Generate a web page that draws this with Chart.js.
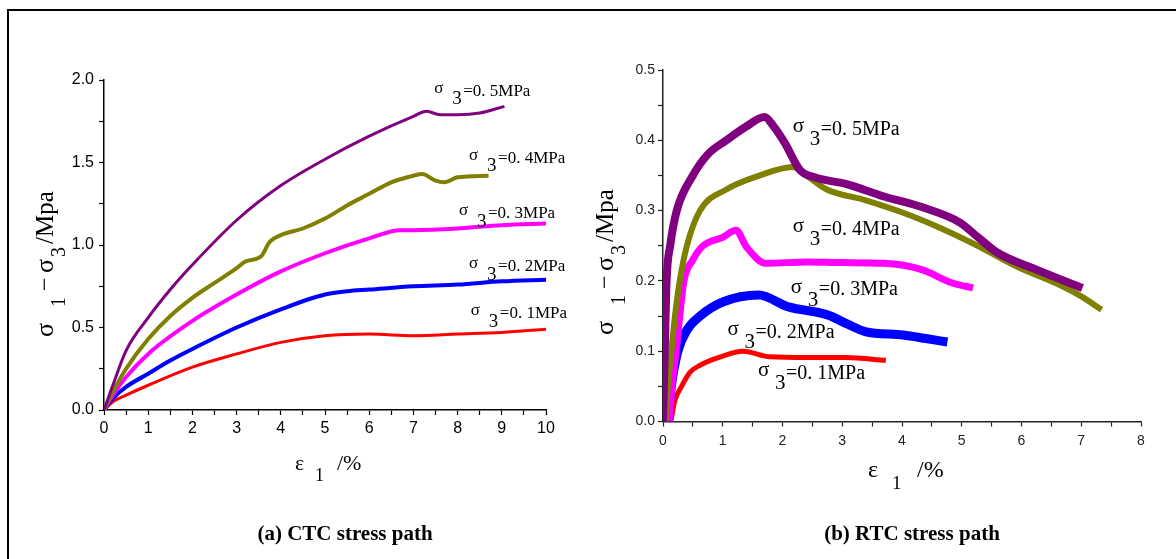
<!DOCTYPE html>
<html>
<head>
<meta charset="utf-8">
<script src="https://cdn.jsdelivr.net/npm/chart.js@4.4.1/dist/chart.umd.min.js"></script>
<style>
  html, body { margin: 0; padding: 0; background: #fff; overflow: hidden; }
  #wrap { position: relative; width: 1176px; height: 559px; overflow: hidden; }
  #frame { position: absolute; left: 7px; top: 9px; width: 1300px; height: 700px;
           border-left: 2.5px solid #000; border-top: 2px solid #000; }
  canvas { position: absolute; top: 0; }
  #ctcChart { left: 0; }
  #rtcChart { left: 588px; }
  .cap { position: absolute; top: 521px; line-height: 24px; white-space: nowrap;
         font: bold 21px "Liberation Serif", "Times New Roman", serif; transform: translateX(-50%); }
</style>
</head>
<body>
<div id="wrap">
  <div id="frame"></div>
  <canvas id="ctcChart" width="588" height="559"></canvas>
  <canvas id="rtcChart" width="588" height="559"></canvas>
  <div class="cap" style="left:345px">(a) CTC stress path</div>
  <div class="cap" style="left:912px">(b) RTC stress path</div>
</div>
<script>
// confining pressure labels, shared by both panels
const pressures = ['0. 5', '0. 4', '0. 3', '0. 2', '0. 1'];
const colors = ['#800080', '#808000', '#ff00ff', '#0000ff', '#ff0000'];

// (a) CTC stress path: axial strain (%) / deviator stress (MPa)
const ctcStrain05 = [0, 0.2, 0.5, 1, 1.5, 2, 3, 4, 5, 6, 7, 7.3, 7.6, 8, 8.5, 9.06];
const ctcStress05 = [0, 0.15, 0.36, 0.56, 0.73, 0.88, 1.15, 1.36, 1.52, 1.66, 1.78, 1.81, 1.79, 1.79, 1.80, 1.84];
const ctcStrain04 = [0, 0.2, 0.5, 1, 1.5, 2, 2.5, 3, 3.2, 3.55, 3.75, 4, 4.5, 5, 5.5, 6, 6.5, 7, 7.2, 7.5, 7.7, 8, 8.7];
const ctcStress04 = [0, 0.11, 0.25, 0.43, 0.57, 0.68, 0.77, 0.86, 0.90, 0.93, 1.02, 1.06, 1.10, 1.16, 1.24, 1.31, 1.38, 1.42, 1.43, 1.39, 1.38, 1.41, 1.42];
const ctcStrain03 = [0, 0.2, 0.5, 1, 2, 3, 4, 5, 6, 6.7, 7, 8, 9, 10];
const ctcStress03 = [0, 0.09, 0.2, 0.34, 0.54, 0.70, 0.84, 0.95, 1.04, 1.09, 1.09, 1.10, 1.12, 1.13];
const ctcStrain02 = [0, 0.2, 0.5, 1, 1.5, 2, 3, 4, 5, 5.5, 6, 7, 8, 9, 10];
const ctcStress02 = [0, 0.07, 0.14, 0.22, 0.30, 0.37, 0.50, 0.61, 0.70, 0.72, 0.73, 0.75, 0.76, 0.78, 0.79];
const ctcStrain01 = [0, 0.2, 0.5, 1, 2, 3, 4, 5, 6, 7, 8, 9, 10];
const ctcStress01 = [0, 0.05, 0.09, 0.15, 0.26, 0.34, 0.41, 0.45, 0.46, 0.45, 0.46, 0.47, 0.49];

// (b) RTC stress path
const rtcStrain05 = [0, 0.03, 0.06, 0.12, 0.23, 0.5, 0.75, 1.06, 1.4, 1.7, 1.85, 2.04, 2.29, 2.55, 3.06, 3.7, 4.33, 4.97, 5.3, 5.6, 6.25, 7.02];
const rtcStress05 = [0, 0.1, 0.2, 0.25, 0.3, 0.35, 0.38, 0.40, 0.42, 0.433, 0.42, 0.396, 0.358, 0.347, 0.338, 0.32, 0.305, 0.283, 0.26, 0.24, 0.216, 0.19];
const rtcStrain04 = [0.04, 0.08, 0.14, 0.2, 0.28, 0.4, 0.62, 1.06, 1.62, 2.17, 2.4, 2.74, 3.38, 4.02, 4.65, 5.29, 5.93, 6.57, 7.0, 7.34];
const rtcStress04 = [0, 0.05, 0.1, 0.15, 0.2, 0.25, 0.3, 0.33, 0.35, 0.362, 0.35, 0.33, 0.315, 0.297, 0.275, 0.249, 0.22, 0.197, 0.178, 0.159];
const rtcStrain03 = [0.1, 0.15, 0.22, 0.28, 0.35, 0.5, 0.67, 1.0, 1.22, 1.4, 1.72, 2.42, 3.0, 3.7, 4.33, 4.84, 5.19];
const rtcStress03 = [0, 0.05, 0.1, 0.15, 0.2, 0.23, 0.25, 0.262, 0.272, 0.248, 0.225, 0.227, 0.226, 0.225, 0.216, 0.197, 0.19];
const rtcStrain02 = [0.08, 0.14, 0.25, 0.4, 0.62, 1.0, 1.6, 2.1, 2.74, 3.1, 3.38, 4.02, 4.4, 4.76];
const rtcStress02 = [0, 0.05, 0.1, 0.13, 0.15, 0.17, 0.18, 0.163, 0.152, 0.138, 0.128, 0.123, 0.118, 0.113];
const rtcStrain01 = [0.13, 0.2, 0.31, 0.45, 0.62, 0.9, 1.34, 1.79, 2.42, 3.06, 3.73];
const rtcStress01 = [0, 0.03, 0.05, 0.07, 0.08, 0.09, 0.1, 0.092, 0.091, 0.091, 0.087];

// where each "σ3=..." label sits, in data units (strain, stress)
const ctcLabelX = [7.47, 8.26, 8.03, 8.26, 8.30];
const ctcLabelY = [1.933, 1.527, 1.188, 0.867, 0.582];
const rtcLabelX = [2.17, 2.17, 2.14, 1.08, 1.59];
const rtcLabelY = [0.415, 0.273, 0.187, 0.1266, 0.0676];

const zip = (xs, ys) => xs.map((x, i) => ({ x: x, y: ys[i] }));

// draws a run of text pieces; each piece is [text, fontSize, offsetAlong, offsetDown]
function drawPieces(ctx, x, y, pieces, rotated) {
  ctx.save();
  ctx.translate(x, y);
  if (rotated) ctx.rotate(-Math.PI / 2);
  ctx.fillStyle = '#000';
  ctx.textBaseline = 'middle';
  ctx.textAlign = 'left';
  pieces.forEach(p => {
    ctx.font = p[1] + 'px "Liberation Serif", serif';
    ctx.fillText(p[0], p[2], p[3]);
  });
  ctx.restore();
}

function annotations(opts) {
  return {
    id: 'annotations',
    afterDatasetsDraw(chart) {
      const ctx = chart.ctx;
      const xs = chart.scales.x, ys = chart.scales.y;
      // curve labels
      pressures.forEach((p, i) => {
        const px = xs.getPixelForValue(opts.labelX[i]);
        const py = ys.getPixelForValue(opts.labelY[i]);
        const f = opts.labelFont;
        drawPieces(ctx, px, py, [
          ['σ', f.sigma, 0, f.sigmaDy],
          ['3', f.sub, f.subAt, f.subDy],
          ['=' + p + 'MPa', f.rest, f.restAt, 0]
        ], false);
      });
      // axis titles
      const t = opts.xTitle;
      drawPieces(ctx, t.x, t.y, [
        ['ε', t.size, 0, 0],
        ['1', t.subSize, t.subAt, t.subDy],
        ['/%', t.size, t.restAt, 0]
      ], false);
      const v = opts.yTitle;
      drawPieces(ctx, v.x, v.y, [
        ['σ', v.size + 2, 0, 0],
        ['1', v.subSize, 30, v.subDy],
        ['−', v.size, 46, 0],
        ['σ', v.size + 2, 64, 0],
        ['3', v.subSize, 80, v.subDy],
        ['/Mpa', v.size + 1, 93, 0]
      ], true);
    }
  };
}

function makeDatasets(strains, stresses, widths) {
  return strains.map((s, i) => ({
    label: 'σ3=' + pressures[i] + 'MPa',
    data: zip(s, stresses[i]),
    borderColor: colors[i],
    backgroundColor: colors[i],
    borderWidth: widths[i],
    pointRadius: 0,
    cubicInterpolationMode: 'monotone',
    fill: false
  }));
}

function axis(min, max, step, major, digits, font, color, tickPad, fit) {
  return {
    type: 'linear',
    min: min,
    max: max,
    afterFit: fit,
    border: { color: color, width: 1.5 },
    grid: { drawOnChartArea: false, drawTicks: true, tickLength: 5, tickColor: color, tickWidth: 1.2 },
    ticks: {
      stepSize: step,
      autoSkip: false,
      maxRotation: 0,
      padding: tickPad,
      color: color,
      font: { family: '"Liberation Sans", Arial, sans-serif', size: font },
      callback: v => {
        const r = v / major;
        return Math.abs(r - Math.round(r)) < 1e-6 ? v.toFixed(digits) : '';
      }
    }
  };
}

// Render (a) CTC chart
new Chart(document.getElementById('ctcChart').getContext('2d'), {
  type: 'line',
  data: {
    datasets: makeDatasets(
      [ctcStrain05, ctcStrain04, ctcStrain03, ctcStrain02, ctcStrain01],
      [ctcStress05, ctcStress04, ctcStress03, ctcStress02, ctcStress01],
      [3, 4, 4, 4, 3])
  },
  options: {
    responsive: false,
    animation: false,
    layout: { padding: { left: 0, top: 80, right: 42, bottom: 0 } },
    plugins: { legend: { display: false }, tooltip: { enabled: false } },
    scales: {
      x: axis(0, 10, 0.5, 1, 0, 16, '#000', 4, s => { s.height = 149; }),
      y: axis(0, 2, 0.25, 0.5, 1, 16, '#000', 5, s => { s.width = 104; })
    }
  },
  plugins: [annotations({
    labelX: ctcLabelX, labelY: ctcLabelY,
    labelFont: { sigma: 17, sigmaDy: -3, sub: 19, subAt: 18, subDy: 8, rest: 17, restAt: 29 },
    xTitle: { x: 295, y: 464, size: 22, subSize: 18, subAt: 20, subDy: 12, restAt: 42 },
    yTitle: { x: 46, y: 337, size: 24, subSize: 20, subDy: 14 }
  })]
});

// Render (b) RTC chart
new Chart(document.getElementById('rtcChart').getContext('2d'), {
  type: 'line',
  data: {
    datasets: makeDatasets(
      [rtcStrain05, rtcStrain04, rtcStrain03, rtcStrain02, rtcStrain01],
      [rtcStress05, rtcStress04, rtcStress03, rtcStress02, rtcStress01],
      [8, 6, 7, 9, 5])
  },
  options: {
    responsive: false,
    animation: false,
    layout: { padding: { left: 0, top: 70, right: 35, bottom: 0 } },
    plugins: { legend: { display: false }, tooltip: { enabled: false } },
    scales: {
      x: axis(0, 8, 0.5, 1, 0, 14, '#222', 6, s => { s.height = 137.5; }),
      y: axis(0, 0.5, 0.05, 0.1, 1, 14, '#222', 3, s => { s.width = 75; })
    }
  },
  plugins: [annotations({
    labelX: rtcLabelX, labelY: rtcLabelY,
    labelFont: { sigma: 21, sigmaDy: -3, sub: 21, subAt: 17, subDy: 10, rest: 20, restAt: 28 },
    xTitle: { x: 280, y: 471, size: 24, subSize: 19, subAt: 24, subDy: 13, restAt: 49 },
    yTitle: { x: 18, y: 335, size: 24, subSize: 20, subDy: 14 }
  })]
});
</script>
</body>
</html>
